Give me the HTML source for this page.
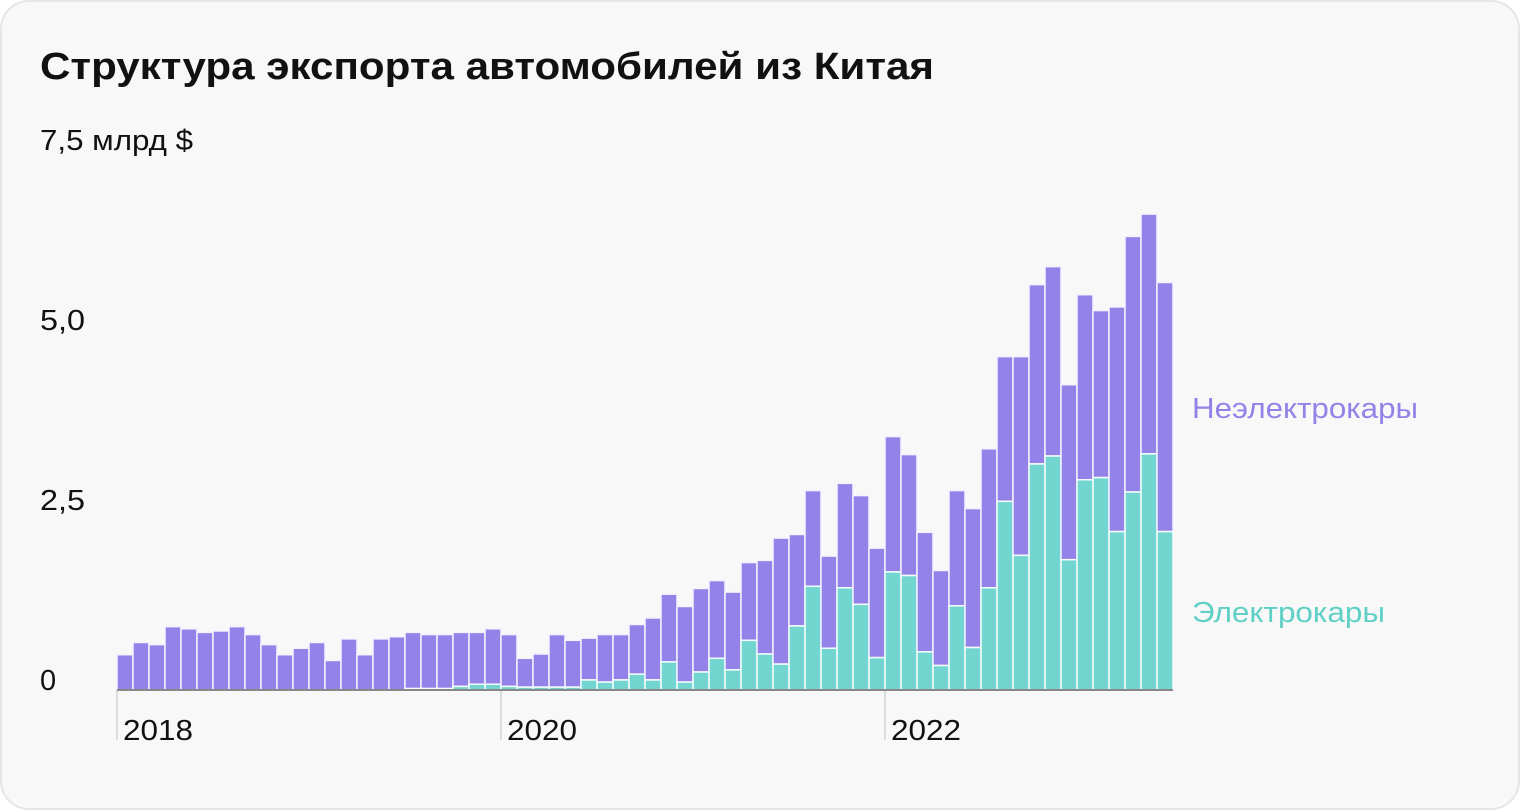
<!DOCTYPE html>
<html><head><meta charset="utf-8"><style>
html,body{margin:0;padding:0;background:#fff;}
svg{display:block;font-family:"Liberation Sans",sans-serif;}
</style></head><body>
<svg id="chart" width="1520" height="810" viewBox="0 0 1520 810">
<rect x="1" y="1" width="1518" height="808" rx="28" fill="#f8f8f8" stroke="#e6e6e6" stroke-width="2"/>
<text x="40" y="79" font-size="38" font-weight="bold" fill="#111" textLength="894" lengthAdjust="spacingAndGlyphs">Структура экспорта автомобилей из Китая</text>
<g id="grid"></g>
<g id="bars"></g>
<line x1="117" y1="690" x2="1173" y2="690" stroke="#888" stroke-width="2"/>
<text x="1192" y="418" font-size="29" fill="#9383e8" textLength="226" lengthAdjust="spacingAndGlyphs">Неэлектрокары</text>
<text x="1192" y="622" font-size="29" fill="#5fd0c6" textLength="193" lengthAdjust="spacingAndGlyphs">Электрокары</text>
</svg>
<script>
const electric = [0,0,0,0,0,0,0,0,0,0,0,0,0,0,0,0,0,0,0.02,0.02,0.02,0.05,0.08,0.08,0.05,
0.04,0.04,0.04,0.04,0.14,0.11,0.14,0.22,0.14,0.39,0.11,0.25,0.44,0.28,0.69,0.50,0.36,0.89,1.44,0.58,1.42,1.19,0.45,1.64,
1.59,0.53,0.34,1.17,0.59,1.42,2.62,1.87,3.14,3.25,1.81,2.92,2.95,2.20,2.75,3.28,2.20];
const totals = [0.49,0.66,0.63,0.88,0.85,0.80,0.82,0.88,0.77,0.63,0.49,0.58,0.66,0.41,0.71,0.49,0.71,0.74,0.80,0.77,0.77,0.80,0.80,0.85,0.77,
0.44,0.50,0.77,0.69,0.72,0.77,0.77,0.91,1.00,1.33,1.16,1.41,1.52,1.36,1.77,1.80,2.11,2.16,2.77,1.86,2.87,2.70,1.97,3.52,
3.27,2.19,1.66,2.77,2.52,3.35,4.63,4.63,5.63,5.88,4.24,5.49,5.27,5.32,6.30,6.61,5.66];
const nonElectric = totals.map((t,i)=>+(t-electric[i]).toFixed(2));
const yTicks = [0,2.5,5,7.5];
const yTickLabels = ["0","2,5","5,0","7,5 млрд $"];
const yearLabels = ["2018","2020","2022"];
const yearStartIndex = [0,24,48];

const NS="http://www.w3.org/2000/svg";
const x0=117, step=16, base=690, k=72;
const xs = i => x0 + i*step;
const ys = v => base - v*k;
function mk(tag, attrs, parent){const e=document.createElementNS(NS,tag);for(const a in attrs)e.setAttribute(a,attrs[a]);parent.appendChild(e);return e;}
const grid=document.getElementById('grid'), bars=document.getElementById('bars');

yTicks.forEach((v,i)=>{
  const lab=yTickLabels[i];
  const attrs={x:40,y:ys(v)-0,'font-size':29,fill:'#111'};
  if(lab.length>3){attrs.textLength=153;attrs.lengthAdjust='spacingAndGlyphs';}
  else if(lab.length===3){attrs.textLength=45;attrs.lengthAdjust='spacingAndGlyphs';}
  const t=mk('text',attrs,grid);
  
  
  t.textContent=lab;
});
yearLabels.forEach((lab,i)=>{
  const x=xs(yearStartIndex[i]);
  const l=mk('line',{x1:x,y1:690,x2:x,y2:740,stroke:'#dcdcdc','stroke-width':2},grid);
  
  
  const t=mk('text',{x:x+6,y:740,'font-size':29,fill:'#111',textLength:70,lengthAdjust:'spacingAndGlyphs'},grid);
  
  
  t.textContent=lab;
});
electric.forEach((e,i)=>{
  const x=xs(i), w=step;
  const tot=e+nonElectric[i];
  const r1=mk('rect',{x:x,y:ys(tot),width:w,height:Math.max(0,ys(e)-ys(tot)),fill:'#9383e8',stroke:'#f4f2ff','stroke-width':1.5},bars);
  
  
  if(e>0){
    const r2=mk('rect',{x:x,y:ys(e),width:w,height:base-ys(e),fill:'#72d5cf',stroke:'#f4fffd','stroke-width':1.5},bars);
    
    
  }
});
</script>
</body></html>
